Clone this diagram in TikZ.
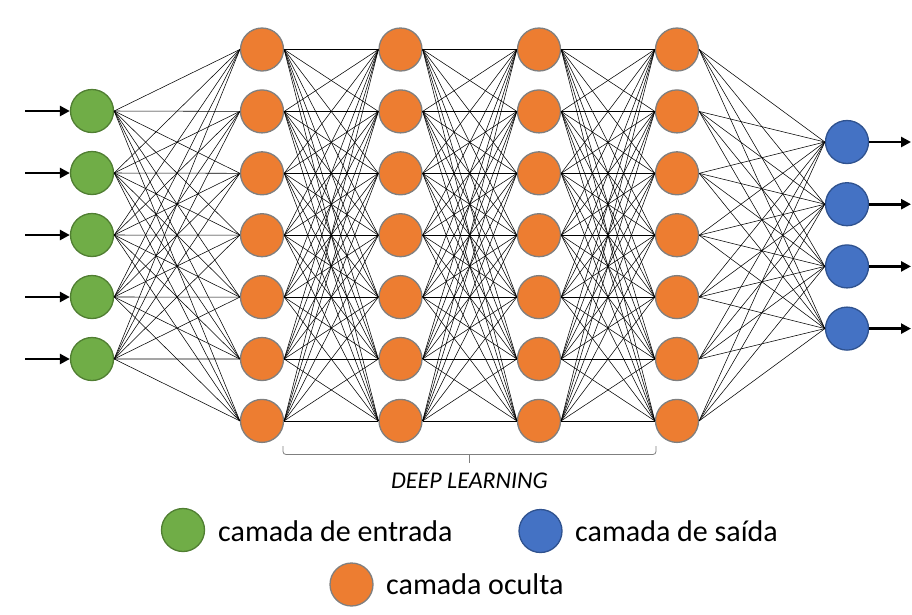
\documentclass[tikz,border=0pt]{standalone}
\usepackage{fontspec}
\setmainfont{Carlito}
\usetikzlibrary{arrows.meta}
\definecolor{ingreen}{HTML}{70AD47}
\definecolor{ingreenb}{HTML}{507E32}
\definecolor{hidorange}{HTML}{ED7D31}
\definecolor{hidborder}{HTML}{7F7F7F}
\definecolor{outblue}{HTML}{4472C4}
\definecolor{outblueb}{HTML}{2F528F}
\begin{document}
\begin{tikzpicture}[x=1pt,y=-1pt,
  neuron/.style={circle, minimum size=43pt, inner sep=0pt, line width=1.3pt},
  inneuron/.style={neuron, fill=ingreen, draw=ingreenb},
  hidneuron/.style={neuron, fill=hidorange, draw=hidborder},
  outneuron/.style={neuron, fill=outblue, draw=outblueb},
  conn/.style={black, line width=0.55pt},
  ioarrow/.style={line width=2.6pt, -{Triangle[length=10pt,width=10pt]}},
  legendtext/.style={anchor=base west, inner sep=0pt, font=\fontsize{30pt}{36pt}\selectfont},
  brace/.style={draw=hidborder, line width=0.8pt, rounded corners=3pt}
]
\useasboundingbox (0,0) rectangle (912,614);
% input layer
\foreach \n in {1,...,5} {
  \node[inneuron] (i\n) at (92, {111+62*(\n-1)}) {};
  \coordinate (ia\n) at (25, {111+62*(\n-1)});
}
% hidden layers
\foreach \l/\x in {1/262, 2/400.5, 3/539, 4/677} {
  \foreach \n in {1,...,7} {
    \node[hidneuron] (h-\l-\n) at (\x, {49.5+61.9*(\n-1)}) {};
  }
}
% output layer
\foreach \n in {1,...,4} {
  \node[outneuron] (o\n) at (847, {142+62.2*(\n-1)}) {};
  \coordinate (oa\n) at (911, {142+62.2*(\n-1)});
}
% connections
\foreach \a in {1,...,5} \foreach \b in {1,...,7}
  \draw[conn] (i\a.east) -- (h-1-\b.west);
\foreach \l/\m in {1/2, 2/3, 3/4} \foreach \a in {1,...,7} \foreach \b in {1,...,7}
  \draw[conn] (h-\l-\a.east) -- (h-\m-\b.west);
\foreach \a in {1,...,7} \foreach \b in {1,...,4}
  \draw[conn] (h-4-\a.east) -- (o\b.west);
% input / output arrows
\foreach \n in {1,...,5} \draw[ioarrow] (ia\n) -- (i\n.west);
\foreach \n in {1,...,4} \draw[ioarrow] (o\n.east) -- (oa\n);
% brace
\coordinate (bl) at (283,446);
\coordinate (br) at (656,446);
\coordinate (bm) at (469.5,463);
\draw[brace] (bl) -- (283,454.5) -- (656,454.5) -- (br);
\draw[draw=hidborder, line width=0.8pt] (469.5,454.5) -- (bm);
\node[anchor=base, inner sep=0pt, font=\fontsize{24pt}{28pt}\selectfont\itshape] (dl) at (469.5,488) {DEEP LEARNING};
% legend
\node[inneuron] (lg) at (183,530) {};
\node[legendtext] (lgt) at (218,541) {camada de entrada};
\node[outneuron] (lb) at (540.5,531) {};
\node[legendtext] (lbt) at (575,541) {camada de saída};
\node[hidneuron] (lo) at (351.5,584.5) {};
\node[legendtext] (lot) at (386,594) {camada oculta};
\end{tikzpicture}
\end{document}
